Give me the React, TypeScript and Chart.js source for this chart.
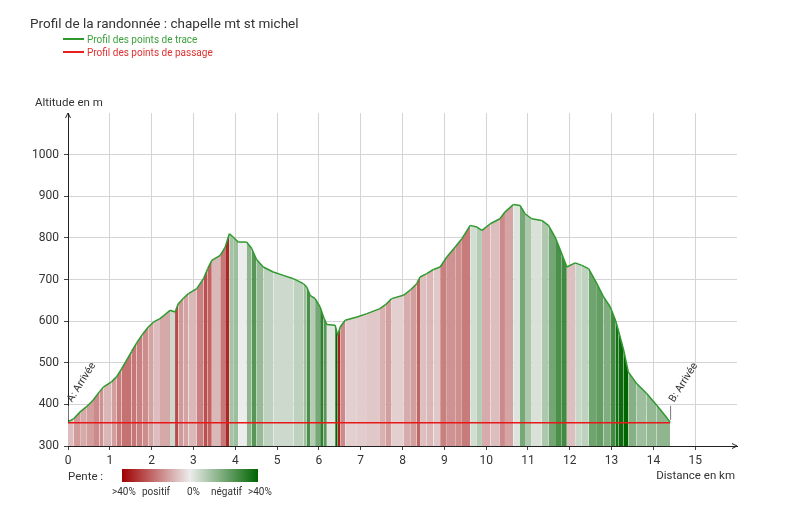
import React, { useEffect, useRef } from 'react';
import { Chart, registerables } from 'chart.js';

Chart.register(...registerables);

// Distance (km) of each track point
const distances = [
  0.0, 0.13, 0.29, 0.45, 0.6, 0.75, 0.85, 1.04, 1.16, 1.28, 1.4, 1.52, 1.64, 1.78, 1.92,
  2.05, 2.2, 2.32, 2.44, 2.56, 2.64, 2.76, 2.88, 3.08, 3.24, 3.34, 3.44, 3.64, 3.76, 3.86,
  3.95, 4.07, 4.27, 4.39, 4.51, 4.67, 4.91, 5.15, 5.39, 5.63, 5.71, 5.79, 5.91, 6.03, 6.11,
  6.19, 6.39, 6.45, 6.51, 6.63, 6.91, 7.15, 7.46, 7.6, 7.74, 8.02, 8.2, 8.34, 8.42, 8.58,
  8.74, 8.9, 9.06, 9.26, 9.42, 9.62, 9.78, 9.9, 10.1, 10.33, 10.45, 10.65, 10.81, 10.93, 11.09,
  11.33, 11.49, 11.65, 11.81, 11.93, 12.13, 12.29, 12.45, 12.65, 12.81, 12.97, 13.1, 13.17, 13.29, 13.4,
  13.6, 13.84, 14.08, 14.24, 14.4,
];
// Altitude (m) of each track point
const altitudes = [
  358, 365, 382, 395, 410, 430, 442, 454, 466, 485, 506, 527, 547, 568, 586,
  598, 606, 616, 626, 622, 642, 655, 666, 678, 702, 726, 746, 758, 778, 810,
  802, 790, 790, 775, 748, 730, 718, 710, 702, 690, 682, 662, 654, 634, 610,
  592, 590, 566, 586, 602, 610, 618, 630, 640, 654, 662, 676, 690, 706, 714,
  724, 730, 754, 778, 798, 830, 826, 818, 834, 846, 862, 880, 878, 858, 846,
  842, 830, 802, 762, 730, 740, 734, 726, 690, 658, 634, 600, 575, 530, 478,
  450, 426, 398, 378, 358,
];
// Waypoints profile
const passageDistances = [0, 14.4];
const passageAltitudes = [356, 356];

const xTicks = [0, 1, 2, 3, 4, 5, 6, 7, 8, 9, 10, 11, 12, 13, 14, 15];
const yTicks = [300, 400, 500, 600, 700, 800, 900, 1000];

const TITLE = 'Profil de la randonnée : chapelle mt st michel';
const LEGEND_TRACE = 'Profil des points de trace';
const LEGEND_PASSAGE = 'Profil des points de passage';
const Y_TITLE = 'Altitude en m';
const X_TITLE = 'Distance en km';
const START_LABEL = 'A: Arrivée';
const END_LABEL = 'B: Arrivée';
const SLOPE_LABELS = ['>40%', 'positif', '0%', 'négatif', '>40%'];

const FONT = 'Roboto, "Noto Sans", sans-serif';
const NEUTRAL = [236, 236, 236];
const RED = [160, 0, 0];
const GREEN = [0, 100, 0];

function mix(a: number[], b: number[], t: number) {
  const c = a.map((v, i) => Math.round(v + (b[i] - v) * t));
  return `rgb(${c[0]},${c[1]},${c[2]})`;
}

function slopeColor(x0: number, y0: number, x1: number, y1: number) {
  const dx = (x1 - x0) * 1000;
  if (dx <= 0) return mix(NEUTRAL, NEUTRAL, 0);
  const s = (y1 - y0) / dx;
  let t = Math.min(1, Math.abs(s) / 0.4);
  t = Math.pow(t, 0.8);
  return mix(NEUTRAL, s >= 0 ? RED : GREEN, t);
}

const overlay = {
  id: 'overlay',
  afterDraw(chart: any) {
    const ctx = chart.ctx as CanvasRenderingContext2D;
    const xs = chart.scales.x;
    const ys = chart.scales.y;
    const area = chart.chartArea;
    ctx.save();

    // Title
    ctx.fillStyle = '#333';
    ctx.font = `13.5px ${FONT}`;
    ctx.textBaseline = 'alphabetic';
    ctx.textAlign = 'left';
    ctx.fillText(TITLE, 30, 28);

    // Legend
    ctx.lineWidth = 2;
    ctx.strokeStyle = '#2e9a2e';
    ctx.beginPath();
    ctx.moveTo(63, 39);
    ctx.lineTo(84, 39);
    ctx.stroke();
    ctx.strokeStyle = '#e82020';
    ctx.beginPath();
    ctx.moveTo(63, 52);
    ctx.lineTo(84, 52);
    ctx.stroke();
    ctx.font = `10px ${FONT}`;
    ctx.fillStyle = '#3da03d';
    ctx.fillText(LEGEND_TRACE, 87, 42.5);
    ctx.fillStyle = '#e03030';
    ctx.fillText(LEGEND_PASSAGE, 87, 55.5);

    // Axis titles
    ctx.fillStyle = '#333';
    ctx.font = `11.5px ${FONT}`;
    ctx.fillText(Y_TITLE, 35, 106);
    ctx.textAlign = 'right';
    ctx.fillText(X_TITLE, 735, 479);
    ctx.textAlign = 'left';

    // Arrows
    ctx.strokeStyle = '#222';
    ctx.lineWidth = 1;
    const ax = area.left;
    ctx.beginPath();
    ctx.moveTo(ax - 2.5, area.top + 5);
    ctx.lineTo(ax, area.top);
    ctx.lineTo(ax + 2.5, area.top + 5);
    ctx.stroke();
    ctx.beginPath();
    ctx.moveTo(area.right - 5, area.bottom - 2.5);
    ctx.lineTo(area.right, area.bottom);
    ctx.lineTo(area.right - 5, area.bottom + 2.5);
    ctx.stroke();

    // Start / end annotations
    const drawMark = (km: number, alt: number, label: string) => {
      const px = xs.getPixelForValue(km);
      const py = ys.getPixelForValue(alt);
      ctx.strokeStyle = '#777';
      ctx.lineWidth = 1;
      ctx.beginPath();
      ctx.moveTo(px + 0.5, py - 2);
      ctx.lineTo(px + 0.5, py - 16);
      ctx.stroke();
      ctx.save();
      ctx.translate(px + 4, py - 19);
      ctx.rotate(-58 * Math.PI / 180);
      ctx.fillStyle = '#333';
      ctx.font = `10.5px ${FONT}`;
      ctx.textAlign = 'left';
      ctx.fillText(label, 0, 0);
      ctx.restore();
    };
    drawMark(distances[0], altitudes[0], START_LABEL);
    drawMark(distances[distances.length - 1], altitudes[altitudes.length - 1], END_LABEL);

    // Slope legend
    ctx.fillStyle = '#333';
    ctx.font = `11.5px ${FONT}`;
    ctx.fillText('Pente :', 68, 480);
    const g = ctx.createLinearGradient(122, 0, 258, 0);
    g.addColorStop(0, mix(RED, RED, 0));
    g.addColorStop(0.5, mix(NEUTRAL, NEUTRAL, 0));
    g.addColorStop(1, mix(GREEN, GREEN, 0));
    ctx.fillStyle = g;
    ctx.fillRect(122, 469, 136, 13);
    ctx.fillStyle = '#333';
    ctx.font = `10px ${FONT}`;
    const lx = [112, 142, 187, 211, 248];
    SLOPE_LABELS.forEach((t, i) => ctx.fillText(t, lx[i], 495));

    ctx.restore();
  },
};

export default function App() {
  const ref = useRef<HTMLCanvasElement | null>(null);
  useEffect(() => {
    document.body.style.margin = '0';
    const canvas = ref.current;
    if (!canvas) return;
    const chart = new Chart(canvas, {
      type: 'line',
      data: {
        datasets: [
          {
            label: LEGEND_PASSAGE,
            data: passageDistances.map((x, i) => ({ x, y: passageAltitudes[i] })),
            borderColor: '#e81818',
            borderWidth: 1.5,
            pointRadius: 0,
            fill: false,
            order: 0,
          },
          {
            label: LEGEND_TRACE,
            data: distances.map((x, i) => ({ x, y: altitudes[i] })),
            borderColor: '#2e9a2e',
            borderWidth: 1.5,
            pointRadius: 0,
            fill: 'start',
            backgroundColor: '#ddd',
            order: 1,
            segment: {
              backgroundColor: (c: any) => slopeColor(c.p0.parsed.x, c.p0.parsed.y, c.p1.parsed.x, c.p1.parsed.y),
            },
          } as any,
        ],
      },
      options: {
        animation: false,
        responsive: false,
        events: [],
        layout: { padding: { left: 28, right: 62, top: 113, bottom: 42 } },
        plugins: { legend: { display: false }, tooltip: { enabled: false }, title: { display: false } },
        scales: {
          x: {
            type: 'linear',
            min: 0,
            max: 16,
            afterBuildTicks: (s: any) => { s.ticks = xTicks.map((v) => ({ value: v })); },
            afterFit: (s: any) => { s.height = 30; },
            ticks: { color: '#333', font: { family: FONT, size: 12 }, padding: 4, maxRotation: 0, autoSkip: false, callback: (v: any) => String(v) },
            grid: { color: '#d4d4d4', tickLength: 4, tickColor: '#444' },
            border: { color: '#222', width: 1 },
          },
          y: {
            type: 'linear',
            min: 300,
            max: 1100,
            afterBuildTicks: (s: any) => { s.ticks = yTicks.map((v) => ({ value: v })); },
            afterFit: (s: any) => { s.width = 40; },
            ticks: { color: '#333', font: { family: FONT, size: 12 }, padding: 5, callback: (v: any) => String(v) },
            grid: { color: '#d4d4d4', tickLength: 4, tickColor: '#444' },
            border: { color: '#222', width: 1 },
          },
        },
      },
      plugins: [overlay],
    } as any);
    return () => chart.destroy();
  }, []);
  return (
    <div style={{ width: 799, height: 518, background: '#fff' }}>
      <canvas ref={ref} width={799} height={518} style={{ width: 799, height: 518, display: 'block' }} />
    </div>
  );
}
